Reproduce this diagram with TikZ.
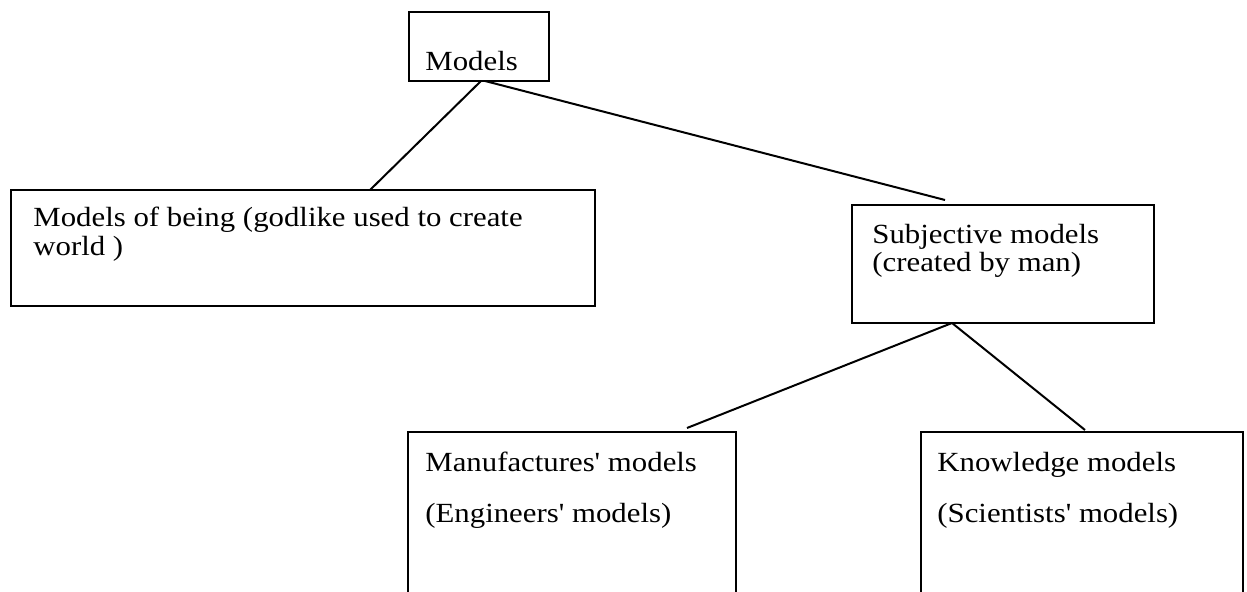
\documentclass[tikz,border=0pt]{standalone}
\usepackage{fontspec}
\setmainfont{Liberation Serif}
\usetikzlibrary{calc}
\newcommand{\sq}{\scalebox{1}[0.9]}
\begin{document}
\begin{tikzpicture}[x=0.5pt,y=-0.5pt,
  box/.style={draw, line width=1pt, inner sep=0pt, outer sep=0pt},
  txt/.style={anchor=base west, inner sep=0pt, font=\fontsize{15.4pt}{18pt}\selectfont},
  link/.style={line width=1pt}]
\useasboundingbox (0,0) rectangle (1247,592);
\clip (0,0) rectangle (1247,592);
\fill[white] (0,0) rectangle (1247,592);
% boxes
\node[box, minimum width=70pt, minimum height=34.5pt] (models) at (479,46.5) {};
\node[box, minimum width=292pt, minimum height=58pt] (being) at (303,248) {};
\node[box, minimum width=151pt, minimum height=59pt] (subj) at (1003,264) {};
\node[box, minimum width=164pt, minimum height=109pt] (manu) at (572,541) {};
\node[box, minimum width=161pt, minimum height=109pt] (know) at (1082,541) {};
% texts
\node[txt] (tmodels) at (425,71) {\sq{Models}};
\node[txt] (tbeing1) at (33,227) {\sq{Models of being (godlike used to create}};
\node[txt] (tbeing2) at (33,256) {\sq{world )}};
\node[txt] (tsubj1) at (872,244) {\sq{Subjective models}};
\node[txt] (tsubj2) at (872,272) {\sq{(created by man)}};
\node[txt] (tmanu1) at (425,472) {\sq{Manufactures\textquotesingle\ models}};
\node[txt] (tmanu2) at (425,523) {\sq{(Engineers\textquotesingle\ models)}};
\node[txt] (tknow1) at (937,472) {\sq{Knowledge models}};
\node[txt] (tknow2) at (937,523) {\sq{(Scientists\textquotesingle\ models)}};
% connectors
\draw[link] ($(models.south west)+(72,0)$) -- ($(being.north west)+(359,0)$);
\draw[link] ($(models.south west)+(76,0)$) -- ($(subj.north west)+(93,-5)$);
\draw[link] ($(subj.south west)+(100,0)$) -- ($(manu.north west)+(279,-4)$);
\draw[link] ($(subj.south west)+(100,0)$) -- ($(know.north west)+(164,-2)$);
\end{tikzpicture}
\end{document}
